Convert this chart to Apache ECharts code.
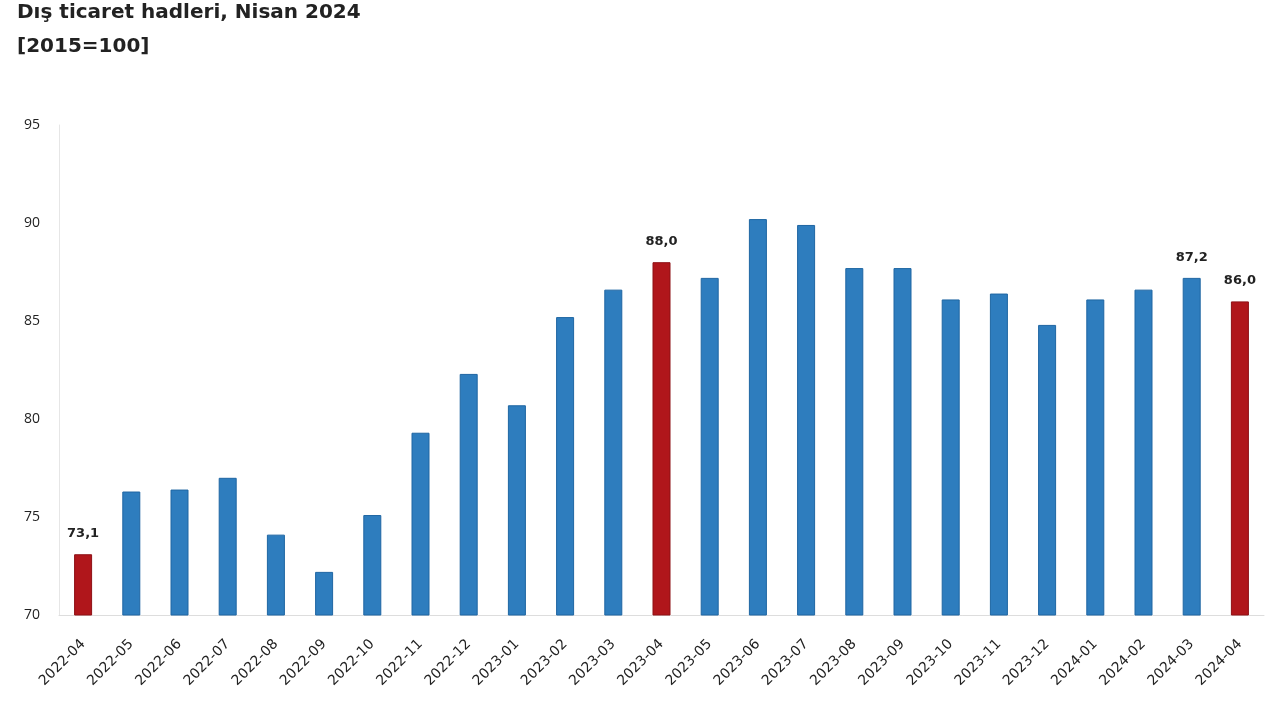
<!DOCTYPE html>
<html><head><meta charset="utf-8">
<script src="https://cdn.jsdelivr.net/npm/echarts@6/dist/echarts.min.js"></script>
<style>html,body{margin:0;padding:0;background:#fff}#c{width:1280px;height:720px}</style>
</head><body><div id="c"></div>
<script>
const categories = ["2022-04","2022-05","2022-06","2022-07","2022-08","2022-09","2022-10","2022-11","2022-12","2023-01","2023-02","2023-03","2023-04","2023-05","2023-06","2023-07","2023-08","2023-09","2023-10","2023-11","2023-12","2024-01","2024-02","2024-03","2024-04"];
const values = [73.1,76.3,76.4,77.0,74.1,72.2,75.1,79.3,82.3,80.7,85.2,86.6,88.0,87.2,90.2,89.9,87.7,87.7,86.1,86.4,84.8,86.1,86.6,87.2,86.0];
const highlighted = ["2022-04","2023-04","2024-04"];
const labelled = ["2022-04","2023-04","2024-03","2024-04"];
const yTicks = [70,75,80,85,90,95];

const chart = echarts.init(document.getElementById('c'));
chart.setOption({
  animation:false,
  title:{text:'Dış ticaret hadleri, Nisan 2024\n[2015=100]',left:12,top:-9,
    textStyle:{fontFamily:'DejaVu Sans',fontSize:20,fontWeight:'bold',color:'#222',lineHeight:34}},
  grid:{left:59,right:16,top:125,bottom:105},
  xAxis:{type:'category',data:categories,
    axisLine:{lineStyle:{color:'#dddddd'}},axisTick:{show:false},
    axisLabel:{rotate:45,fontFamily:'DejaVu Sans',fontSize:14,color:'#222',margin:27,interval:0}},
  yAxis:{type:'value',min:70,max:95,interval:5,
    axisLine:{show:true,lineStyle:{color:'#e6e6e6'}},axisTick:{show:false},splitLine:{show:false},
    axisLabel:{fontFamily:'Open Sans',fontSize:14,color:'#222',margin:19,
      formatter:v=>yTicks.includes(v)?String(v):''}},
  series:[{type:'bar',barWidth:18,
    data:values.map((v,i)=>{
      const hl=highlighted.includes(categories[i]);
      const lb=labelled.includes(categories[i]);
      return {value:v,
        itemStyle:{color:hl?'#B0161B':'#2E7DBE',borderColor:hl?'#8e1015':'#1f66a3',borderWidth:1},
        label:{show:lb,position:'top',distance:14,fontFamily:'DejaVu Sans',fontWeight:'bold',fontSize:13,color:'#222',
          formatter:p=>p.value.toFixed(1).replace('.',',')}};
    })}]
});
</script></body></html>
